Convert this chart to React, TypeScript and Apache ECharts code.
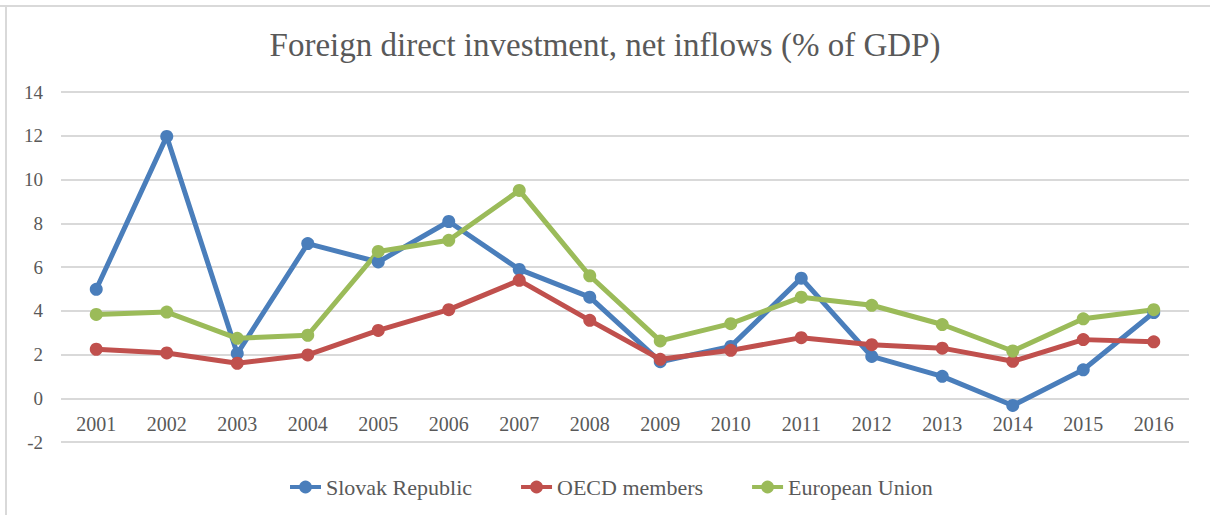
import React, { useEffect, useRef } from "react";
import * as echarts from "echarts";

const years = ["2001", "2002", "2003", "2004", "2005", "2006", "2007", "2008", "2009", "2010", "2011", "2012", "2013", "2014", "2015", "2016"];
const slovak = [4.98, 11.97, 2.04, 7.07, 6.23, 8.08, 5.89, 4.62, 1.67, 2.37, 5.49, 1.91, 1.0, -0.33, 1.3, 3.92];
const oecd = [2.24, 2.07, 1.6, 1.98, 3.1, 4.05, 5.39, 3.56, 1.78, 2.19, 2.77, 2.45, 2.29, 1.69, 2.68, 2.58];
const eu = [3.83, 3.94, 2.74, 2.88, 6.71, 7.22, 9.5, 5.6, 2.62, 3.41, 4.62, 4.25, 3.37, 2.16, 3.63, 4.05];
const seriesNames = ["Slovak Republic", "OECD members", "European Union"];
const colors = ["#4A7EBB", "#C0504D", "#9BBB59"];
const titleText = "Foreign direct investment, net inflows (% of GDP)";

const FONT = "'Liberation Serif', 'Times New Roman', serif";
const GRAY = "#595959";

export default function App() {
  const ref = useRef<HTMLDivElement>(null);
  useEffect(() => {
    document.body.style.margin = "0";
    const chart = echarts.init(ref.current!, null, { renderer: "svg" });
    const data = [slovak, oecd, eu];
    chart.setOption({
      animation: false,
      backgroundColor: "#ffffff",
      title: {
        text: titleText,
        left: "center",
        top: 23,
        textStyle: { fontFamily: FONT, fontSize: 33, fontWeight: "normal", color: GRAY },
      },
      graphic: [
        { type: "rect", shape: { x: 0, y: 5, width: 1210, height: 2 }, style: { fill: "#d9d9d9" }, silent: true },
        { type: "rect", shape: { x: 5, y: 5, width: 2, height: 510 }, style: { fill: "#d9d9d9" }, silent: true },
      ],
      legend: {
        data: seriesNames,
        top: 476,
        left: 288,
        padding: 0,
        itemWidth: 31,
        itemHeight: 16,
        itemGap: 47,
        lineStyle: { width: 4 },
        textStyle: { fontFamily: FONT, fontSize: 22, color: GRAY },
      },
      grid: { left: 61, right: 21, top: 92, bottom: 73, containLabel: false },
      xAxis: {
        type: "category",
        data: years,
        boundaryGap: true,
        axisLine: { show: false },
        axisTick: { show: false },
        axisLabel: { inside: true, fontFamily: FONT, fontSize: 20, color: GRAY, margin: 8 },
      },
      yAxis: {
        type: "value",
        min: -2,
        max: 14,
        interval: 2,
        axisLine: { show: false },
        axisTick: { show: false },
        axisLabel: { fontFamily: FONT, fontSize: 19, color: GRAY, margin: 18 },
        splitLine: { lineStyle: { color: "#d9d9d9", width: 2 } },
      },
      series: seriesNames.map((name, i) => ({
        name,
        type: "line",
        data: data[i],
        color: colors[i],
        symbol: "circle",
        symbolSize: 13,
        lineStyle: { width: 5, color: colors[i] },
        itemStyle: { color: colors[i] },
      })),
    });
    return () => chart.dispose();
  }, []);
  return <div ref={ref} style={{ width: 1210, height: 515 }} />;
}
